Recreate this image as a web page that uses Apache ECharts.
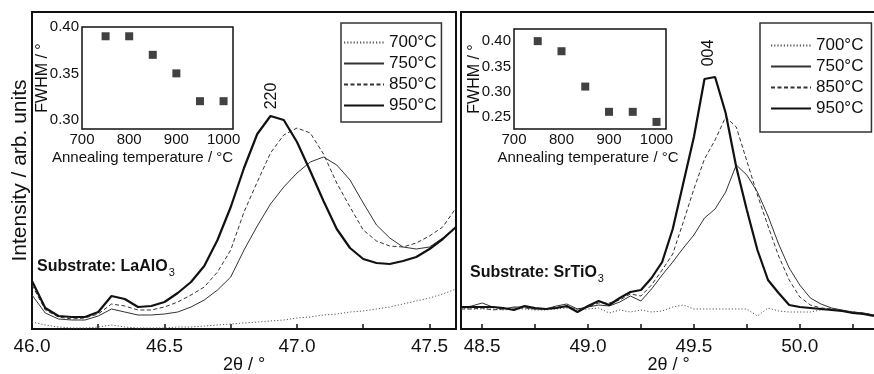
<!DOCTYPE html>
<html>
<head>
<meta charset="utf-8">
<script src="https://cdn.jsdelivr.net/npm/echarts@6/dist/echarts.min.js"></script>
<style>
html,body{margin:0;padding:0;background:#fff;}
#chart{width:874px;height:374px;}
</style>
</head>
<body>
<div id="chart"></div>
<script>
// ---------- DATA ----------
const seriesNames = ['700°C', '750°C', '850°C', '950°C'];

// Left panel: LaAlO3 substrate, 220 reflection (2θ in degrees, intensity arb. units)
const thetaLaAlO3 = [46.00,46.05,46.10,46.15,46.20,46.25,46.30,46.35,46.40,46.45,46.50,46.55,46.60,46.65,46.70,46.75,46.80,46.85,46.90,46.95,47.00,47.05,47.10,47.15,47.20,47.25,47.30,47.35,47.40,47.45,47.50,47.55,47.60];
const la700 = [7,4,2,1,1,2,4,2,1,1,1,2,2,3,4,5,6,7,8,9,11,12,14,15,17,18,20,22,25,28,31,35,40];
const la750 = [34,16,10,9,9,13,20,17,14,14,15,17,22,29,39,52,79,103,125,142,156,167,172,164,149,126,104,91,82,80,82,91,102];
const la850 = [44,19,12,10,11,15,25,23,19,19,22,27,34,42,57,79,117,147,176,194,201,196,175,146,122,99,88,83,82,86,93,102,121];
const la950 = [48,21,13,12,12,17,33,30,22,23,27,36,47,63,89,122,161,195,213,209,187,158,128,100,81,70,66,65,68,72,80,90,102];

// Right panel: SrTiO3 substrate, 004 reflection
const thetaSrTiO3 = [48.40,48.45,48.50,48.55,48.60,48.65,48.70,48.75,48.80,48.85,48.90,48.95,49.00,49.05,49.10,49.15,49.20,49.25,49.30,49.35,49.40,49.45,49.50,49.55,49.60,49.65,49.70,49.75,49.80,49.85,49.90,49.95,50.00,50.05,50.10,50.15,50.20,50.25,50.30,50.35];
const st700 = [21,20,20,20,19,20,20,19,19,20,21,19,20,21,16,19,17,19,17,18,22,24,20,20,20,20,20,20,13,21,18,17,17,17,19,20,18,17,16,14];
const st750 = [21,23,26,22,20,22,22,20,20,23,25,20,22,24,23,27,33,28,40,54,67,81,94,111,120,137,164,154,137,113,85,61,44,31,25,21,19,17,16,14];
const st850 = [20,20,21,19,20,21,21,20,20,22,22,20,22,26,26,29,35,33,44,59,75,107,140,170,189,212,202,168,134,103,73,49,32,24,21,20,18,17,16,14];
const st950 = [22,22,22,22,21,19,23,21,20,21,23,17,23,28,24,31,37,39,51,67,100,146,192,250,252,216,162,119,79,49,36,24,22,21,20,19,18,16,15,13];

// Insets: FWHM vs annealing temperature
const annealTemp = [750, 800, 850, 900, 950, 1000];
const fwhmLaAlO3 = [0.39, 0.39, 0.37, 0.35, 0.32, 0.32];
const fwhmSrTiO3 = [0.40, 0.38, 0.31, 0.26, 0.26, 0.24];

// Tick labels
const ticksLaAlO3Major = [46.0, 46.5, 47.0, 47.5];
const ticksLaAlO3All = [46.0, 46.25, 46.5, 46.75, 47.0, 47.25, 47.5];
const ticksSrTiO3Major = [48.5, 49.0, 49.5, 50.0];
const ticksSrTiO3All = [48.5, 48.75, 49.0, 49.25, 49.5, 49.75, 50.0, 50.25];
const ticksTemp = [700, 800, 900, 1000];
const ticksFwhmLa = [0.30, 0.35, 0.40];
const ticksFwhmSr = [0.25, 0.30, 0.35, 0.40];

// ---------- CHART ----------
const FONT = 'Liberation Sans, Arial, Helvetica, sans-serif';
const INK = '#111';
const chart = echarts.init(document.getElementById('chart'), null, {renderer: 'canvas'});

const styles = [
  {color: '#555', width: 1, type: [1.2, 2]},
  {color: '#333', width: 1, type: 'solid'},
  {color: '#333', width: 1, type: [4, 2.5]},
  {color: '#111', width: 2.2, type: 'solid'}
];

function zip(xs, ys) { return xs.map((x, i) => [x, ys[i]]); }

function lineSeries(name, xs, ys, idx, si) {
  return {
    name: name, type: 'line', xAxisIndex: idx, yAxisIndex: idx,
    data: zip(xs, ys), symbol: 'none', smooth: false,
    lineStyle: styles[si], itemStyle: {color: styles[si].color},
    silent: true, z: 3
  };
}

function mainX(gridIndex, min, max, major, all) {
  return {
    gridIndex: gridIndex, type: 'value', min: min, max: max,
    axisLine: {show: false},
    axisTick: {show: true, inside: true, length: 5, customValues: all, lineStyle: {color: INK, width: 1.5}},
    axisLabel: {show: true, customValues: major, margin: 8, fontSize: 19, color: INK, fontFamily: FONT,
      formatter: v => v.toFixed(1)},
    splitLine: {show: false},
    name: '2θ / °', nameLocation: 'middle', nameGap: 27, nameMoveOverlap: false,
    nameTextStyle: {fontSize: 18, color: INK, fontFamily: FONT}
  };
}
function mainY(gridIndex, withName) {
  return {
    gridIndex: gridIndex, type: 'value', min: 0, max: 317,
    axisLine: {show: false}, axisTick: {show: false}, axisLabel: {show: false}, splitLine: {show: false},
    name: withName ? 'Intensity / arb. units' : '', nameLocation: 'middle', nameGap: 1, nameMoveOverlap: false,
    nameTextStyle: {fontSize: 21, color: INK, fontFamily: FONT}
  };
}
function insetX(gridIndex, namePad) {
  return {
    gridIndex: gridIndex, type: 'value', min: 700, max: 1020,
    axisLine: {show: false},
    axisTick: {show: true, inside: true, length: 3, customValues: ticksTemp, lineStyle: {color: INK}},
    axisLabel: {customValues: ticksTemp, margin: 3, fontSize: 15, color: INK, fontFamily: FONT,
      formatter: v => String(v)},
    splitLine: {show: false},
    name: 'Annealing temperature / °C', nameLocation: 'middle', nameGap: 21, nameMoveOverlap: false,
    nameTextStyle: {fontSize: 15, color: INK, fontFamily: FONT, padding: namePad}
  };
}
function insetY(gridIndex, min, max, ticks) {
  return {
    gridIndex: gridIndex, type: 'value', min: min, max: max,
    axisLine: {show: false},
    axisTick: {show: true, inside: true, length: 3, customValues: ticks, lineStyle: {color: INK}},
    axisLabel: {customValues: ticks, margin: 3, fontSize: 15, color: INK, fontFamily: FONT,
      formatter: v => v.toFixed(2)},
    splitLine: {show: false},
    name: 'FWHM / °', nameLocation: 'middle', nameGap: 31, nameMoveOverlap: false,
    nameTextStyle: {fontSize: 16, color: INK, fontFamily: FONT}
  };
}
function legendAt(left, top, padding) {
  return {
    left: left, top: top, orient: 'vertical', data: seriesNames,
    backgroundColor: '#fff', borderColor: '#333', borderWidth: 1.5, padding: padding,
    itemWidth: 40, itemHeight: 14, itemGap: 4, selectedMode: false,
    itemStyle: {opacity: 0},
    textStyle: {fontSize: 17, lineHeight: 17, color: INK, fontFamily: FONT}
  };
}
function gridAt(left, top, width, height, bw, bg, z) {
  return {left: left, top: top, width: width, height: height, show: true, borderColor: INK,
    borderWidth: bw, backgroundColor: bg, z: z, containLabel: false, outerBoundsMode: 'none'};
}

const option = {
  animation: false,
  backgroundColor: '#fff',
  textStyle: {fontFamily: FONT},
  grid: [
    gridAt(32, 12, 424, 317, 2, 'transparent', 2),
    gridAt(461, 12, 415, 317, 2, 'transparent', 2),
    gridAt(82, 27, 151, 102, 1.5, '#fff', 5),
    gridAt(514, 29, 152, 100, 1.5, '#fff', 5)
  ],
  xAxis: [
    mainX(0, 46.0, 47.6, ticksLaAlO3Major, ticksLaAlO3All),
    mainX(1, 48.4, 50.36, ticksSrTiO3Major, ticksSrTiO3All),
    insetX(2, [0, 30, 0, 0]),
    insetX(3, [0, 4, 0, 0])
  ],
  yAxis: [
    mainY(0, true),
    mainY(1, false),
    insetY(2, 0.29, 0.40, ticksFwhmLa),
    insetY(3, 0.226, 0.424, ticksFwhmSr)
  ],
  legend: [
    legendAt(341, 23, [11, 5, 8, 2]),
    legendAt(760, 23, [14, 8, 15, 10])
  ],
  series: [
    lineSeries(seriesNames[0], thetaLaAlO3, la700, 0, 0),
    lineSeries(seriesNames[1], thetaLaAlO3, la750, 0, 1),
    lineSeries(seriesNames[2], thetaLaAlO3, la850, 0, 2),
    lineSeries(seriesNames[3], thetaLaAlO3, la950, 0, 3),
    lineSeries(seriesNames[0], thetaSrTiO3, st700, 1, 0),
    lineSeries(seriesNames[1], thetaSrTiO3, st750, 1, 1),
    lineSeries(seriesNames[2], thetaSrTiO3, st850, 1, 2),
    lineSeries(seriesNames[3], thetaSrTiO3, st950, 1, 3),
    {type: 'scatter', name: 'FWHM LaAlO3', xAxisIndex: 2, yAxisIndex: 2, data: zip(annealTemp, fwhmLaAlO3),
      symbol: 'rect', symbolSize: 8, itemStyle: {color: '#111'}, z: 6, silent: true},
    {type: 'scatter', name: 'FWHM SrTiO3', xAxisIndex: 3, yAxisIndex: 3, data: zip(annealTemp, fwhmSrTiO3),
      symbol: 'rect', symbolSize: 8, itemStyle: {color: '#111'}, z: 6, silent: true}
  ],
  graphic: [
    {type: 'text', x: 272, y: 96, rotation: Math.PI / 2, z: 10,
      style: {text: '220', fontSize: 16, fill: INK, fontFamily: FONT, align: 'center', verticalAlign: 'middle'}},
    {type: 'text', x: 709, y: 53, rotation: Math.PI / 2, z: 10,
      style: {text: '004', fontSize: 16, fill: INK, fontFamily: FONT, align: 'center', verticalAlign: 'middle'}},
    {type: 'text', x: 37, y: 257, z: 10,
      style: {text: '{m|Substrate: LaAlO}{s|3}', fontFamily: FONT,
        rich: {m: {fontSize: 16, fontWeight: 'bold', fill: INK, lineHeight: 20, fontFamily: FONT},
               s: {fontSize: 11, fill: INK, padding: [12, 0, 0, 1], lineHeight: 20, fontFamily: FONT}}}},
    {type: 'text', x: 470, y: 263, z: 10,
      style: {text: '{m|Substrate: SrTiO}{s|3}', fontFamily: FONT,
        rich: {m: {fontSize: 16, fontWeight: 'bold', fill: INK, lineHeight: 20, fontFamily: FONT},
               s: {fontSize: 11, fill: INK, padding: [12, 0, 0, 1], lineHeight: 20, fontFamily: FONT}}}}
  ]
};
chart.setOption(option);
</script>
</body>
</html>
